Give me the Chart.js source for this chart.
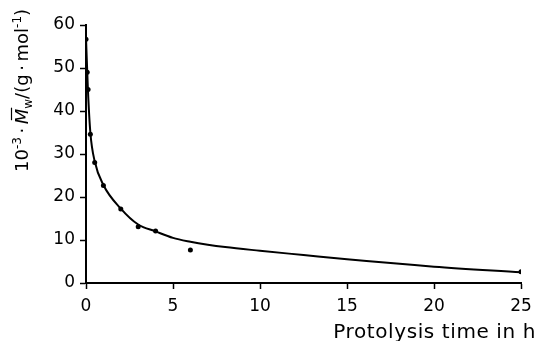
<!DOCTYPE html>
<html>
<head>
<meta charset="utf-8">
<script src="https://cdn.jsdelivr.net/npm/chart.js@4.4.1/dist/chart.umd.min.js"></script>
<style>
  html, body { margin: 0; padding: 0; background: #fff; }
  #wrap { width: 536px; height: 341px; }
</style>
</head>
<body>
<div id="wrap"><canvas id="mwChart" width="536" height="341"></canvas></div>
<script>
// measured molecular weight (10^-3 g/mol) vs. protolysis time (h)
const timeH = [0, 0.07, 0.12, 0.25, 0.5, 1, 2, 3, 4, 6, 25];
const mwMeasured = [56.7, 49, 45, 34.6, 28, 22.7, 17.2, 13.1, 12.1, 7.7, 2.6];

// hand-drawn fit curve through the measurements
const fitTimeH = [0, 0.11, 0.25, 0.5, 1, 2, 3, 4, 5, 6, 7, 8, 10, 12.5, 15, 20, 25];
const mwFit = [57, 45, 35, 28.3, 22.8, 17.3, 13.6, 12.0, 10.5, 9.6, 8.9, 8.35, 7.5, 6.5, 5.5, 3.8, 2.5];

const xTicks = [0, 5, 10, 15, 20, 25];
const yTicks = [0, 10, 20, 30, 40, 50, 60];

const FONT = "DejaVu Sans";

// axis titles with super/subscripts, drawn by hand
const axisTitles = {
  id: "axisTitles",
  afterDraw(chart) {
    const ctx = chart.ctx;

    // x title, right aligned under the axis
    ctx.save();
    ctx.fillStyle = "#000";
    ctx.font = "20px " + FONT;
    ctx.letterSpacing = "0.6px";
    ctx.textAlign = "right";
    ctx.textBaseline = "alphabetic";
    ctx.fillText("Protolysis time in h", 536, 338);
    ctx.restore();

    // y title, rotated, reading bottom to top
    const parts = [
      { t: "10", size: 18, dy: 0 },
      { t: "-3", size: 12, dy: -7 },
      { t: "\u2009\u00b7\u2009", size: 18, dy: 0 },
      { t: "M", size: 18, dy: 0, italic: true, bar: true },
      { t: "w", size: 12, dy: 4 },
      { t: "/(g\u2009\u00b7\u2009mol", size: 18, dy: 0 },
      { t: "-1", size: 12, dy: -7 },
      { t: ")", size: 18, dy: 0 }
    ];
    ctx.save();
    ctx.translate(28, 172);
    ctx.rotate(-Math.PI / 2);
    ctx.fillStyle = "#000";
    ctx.strokeStyle = "#000";
    ctx.textAlign = "left";
    ctx.textBaseline = "alphabetic";
    let u = 0;
    parts.forEach(p => {
      ctx.font = (p.italic ? "italic " : "") + p.size + "px " + FONT;
      ctx.fillText(p.t, u, p.dy);
      const w = ctx.measureText(p.t).width;
      if (p.bar) {
        ctx.lineWidth = 1.2;
        ctx.beginPath();
        ctx.moveTo(u + 4, -16.5);
        ctx.lineTo(u + w + 1, -16.5);
        ctx.stroke();
      }
      u += w;
    });
    ctx.restore();
  }
};

const tickFont = { family: FONT, size: 17 };

new Chart(document.getElementById("mwChart"), {
  type: "scatter",
  data: {
    datasets: [
      {
        type: "line",
        data: fitTimeH.map((t, i) => ({ x: t, y: mwFit[i] })),
        borderColor: "#000",
        borderWidth: 2,
        pointRadius: 0,
        fill: false,
        cubicInterpolationMode: "monotone"
      },
      {
        data: timeH.map((t, i) => ({ x: t, y: mwMeasured[i] })),
        backgroundColor: "#000",
        borderColor: "#000",
        pointRadius: 2.5,
        pointBorderWidth: 0
      }
    ]
  },
  options: {
    responsive: false,
    animation: false,
    layout: { padding: { top: 25, right: 0, left: 0, bottom: 0 } },
    plugins: { legend: { display: false }, tooltip: { enabled: false } },
    scales: {
      x: {
        type: "linear",
        min: 0,
        max: 25,
        afterBuildTicks(scale) { scale.ticks = xTicks.map(v => ({ value: v })); },
        afterFit(scale) {
          scale.height = 58;
          scale.paddingLeft = 0;
          scale.paddingRight = 15;
        },
        ticks: { color: "#000", font: tickFont, padding: 7 },
        grid: { drawOnChartArea: false, tickLength: 6, tickColor: "#000", tickWidth: 1.5 },
        border: { color: "#000", width: 2 }
      },
      y: {
        min: 0,
        max: 60,
        afterBuildTicks(scale) { scale.ticks = yTicks.map(v => ({ value: v })); },
        afterFit(scale) { scale.width = 86; },
        ticks: { color: "#000", font: tickFont, padding: 5 },
        grid: { drawOnChartArea: false, tickLength: 6, tickColor: "#000", tickWidth: 1.5 },
        border: { color: "#000", width: 2 }
      }
    }
  },
  plugins: [axisTitles]
});
</script>
</body>
</html>
